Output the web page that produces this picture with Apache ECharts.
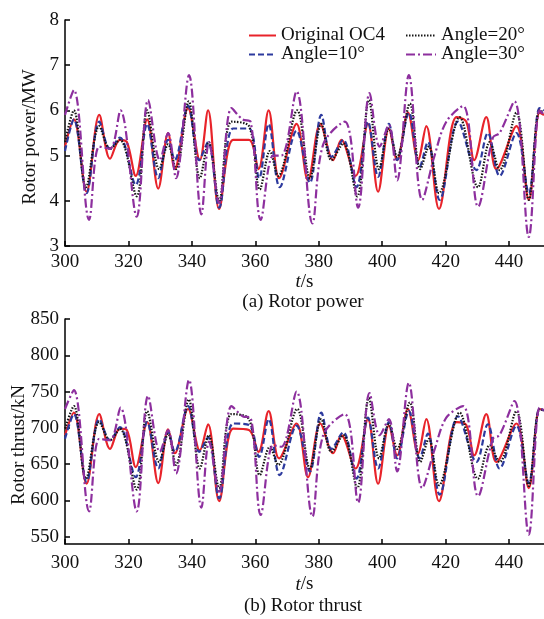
<!DOCTYPE html>
<html>
<head>
<meta charset="utf-8">
<script src="https://cdn.jsdelivr.net/npm/echarts@6/dist/echarts.min.js"></script>
<style>html,body{margin:0;padding:0;background:#fff}#c{width:544px;height:619px}</style>
</head>
<body>
<div id="c"></div>
<script>
// ---- data ----
const seriesNames = ['Original OC4', 'Angle=10°', 'Angle=20°', 'Angle=30°'];
const xTicks = [300, 320, 340, 360, 380, 400, 420, 440];
const powerTicks = [3, 4, 5, 6, 7, 8];
const thrustTicks = [550, 600, 650, 700, 750, 800, 850];

// Original OC4
const tOC4 = [300, 302.8, 306.8, 310.8, 314.2, 317.3, 319.5, 322.3, 325.9, 329.4, 332.5, 334.6, 338.8, 342.5, 345.1, 348.6, 353, 358, 361, 364.2, 367.5, 373, 376.6, 380.5, 384.5, 387.1, 391.6, 395.5, 398.7, 402.1, 404.7, 408.1, 411.3, 413.9, 417.9, 423.4, 426.5, 429, 432.8, 436, 442.3, 446.2, 449.6, 451];
const powerOC4 = [5.2, 5.8, 4.2, 5.9, 4.93, 5.35, 5.3, 4.55, 5.8, 4.27, 5.5, 4.7, 6.05, 4.9, 6.0, 3.82, 5.35, 5.35, 4.7, 6.0, 4.5, 5.7, 4.45, 5.7, 4.9, 5.35, 4.55, 5.7, 4.2, 5.6, 4.9, 5.95, 4.9, 5.65, 3.82, 5.85, 5.75, 4.9, 5.85, 4.7, 5.65, 4.02, 5.95, 5.9];
const thrustOC4 = [690, 721, 623, 719, 671, 699, 697, 646, 708, 624, 698, 665, 726, 669, 705, 599, 699, 697, 667, 723, 658, 706, 632, 706, 665, 690, 644, 712, 623, 703, 662, 726, 665, 712, 599, 708, 704, 662, 719, 653, 706, 617, 726, 724];

// Angle = 10°
const tA10 = [300, 302.8, 306.8, 310.8, 314.2, 317.3, 322.3, 325.9, 329.4, 332.5, 334.6, 338.8, 342.3, 345.1, 348.6, 353, 358, 361.2, 364.2, 367.7, 373, 377.2, 380.8, 384, 387.7, 391.9, 395.5, 398.7, 402.1, 404.7, 408.4, 411.8, 414.4, 418.1, 423.9, 429.7, 433.3, 437, 442.3, 446.2, 449.6, 451];
const powerA10 = [5.1, 5.8, 4.17, 5.75, 5.15, 5.4, 4.35, 5.7, 4.5, 5.35, 4.9, 6.1, 4.9, 5.3, 3.85, 5.6, 5.6, 4.5, 5.7, 4.3, 5.55, 4.4, 5.9, 4.97, 5.35, 4.3, 5.75, 4.53, 5.7, 4.9, 5.95, 4.75, 5.3, 4.02, 5.75, 4.68, 5.5, 4.55, 5.5, 4.17, 6.05, 6.0];
const thrustA10 = [685, 719, 626, 712, 683, 701, 632, 708, 644, 695, 667, 730, 667, 687, 603, 706, 704, 660, 712, 635, 703, 640, 721, 671, 694, 630, 714, 644, 708, 658, 723, 658, 692, 608, 716, 653, 705, 644, 703, 624, 726, 724];

// Angle = 20°
const tA20 = [300, 302.8, 306.6, 310.8, 314.2, 317.3, 322.6, 325.9, 329.7, 332.5, 335, 339, 342.5, 345.3, 348.6, 352.5, 358, 361.4, 364.6, 367.2, 373.2, 377.2, 380.8, 384, 387.7, 392.1, 395.8, 399, 402.1, 404.7, 408.7, 412, 414.7, 417.9, 424.4, 430.2, 433.9, 437, 442.3, 446.2, 449.6, 451];
const powerA20 = [5.3, 6.0, 4.3, 5.65, 5.15, 5.35, 4.1, 6.0, 4.7, 5.25, 4.7, 6.2, 4.5, 5.3, 4.0, 5.75, 5.65, 4.25, 5.1, 4.55, 6.0, 4.5, 5.7, 4.9, 5.27, 4.1, 6.23, 4.7, 5.6, 4.97, 6.15, 4.7, 5.2, 4.17, 5.85, 4.3, 5.3, 4.68, 5.95, 4.02, 6.0, 5.95];
const thrustA20 = [699, 730, 630, 708, 683, 699, 615, 723, 653, 692, 649, 739, 644, 690, 617, 719, 712, 635, 674, 649, 726, 644, 712, 667, 690, 617, 741, 658, 705, 671, 735, 653, 685, 621, 721, 630, 676, 653, 723, 620, 726, 724];

// Angle = 30°
const tA30 = [300, 302.8, 307.6, 310.8, 314.2, 317.5, 322.6, 326.2, 329.9, 332.5, 335, 339.1, 343, 345.4, 348.6, 352.5, 356, 358.5, 361.7, 365.6, 368.2, 373, 378, 381.4, 388.2, 392.4, 396, 399.2, 402.1, 404.7, 408.4, 412.6, 416.5, 420.2, 425.5, 430.2, 434.9, 437, 441.7, 446.2, 449.6, 451];
const powerA30 = [5.9, 6.45, 3.58, 5.2, 5.15, 6.0, 3.65, 6.23, 4.9, 5.5, 4.5, 6.78, 3.7, 5.3, 3.95, 6.05, 5.8, 5.75, 3.58, 5.0, 5.0, 6.42, 3.5, 5.25, 5.75, 3.85, 6.38, 5.2, 5.68, 4.45, 6.78, 4.02, 5.0, 5.75, 6.1, 3.87, 5.4, 5.5, 6.2, 3.2, 6.0, 5.9];
const thrustA30 = [726, 752, 585, 685, 683, 728, 585, 744, 667, 697, 637, 766, 590, 681, 612, 730, 716, 714, 580, 676, 674, 750, 578, 690, 719, 597, 748, 690, 712, 640, 762, 617, 670, 714, 730, 606, 685, 690, 737, 553, 728, 724];

// ---- styles ----
const FONT = 'Liberation Serif';
const colors = ['#e8232a', '#2d3a9e', '#161616', '#8d2f9e'];
const dashes = ['solid', [6, 3], [1.5, 1.5], [9, 3, 2, 3]];

const times = [tOC4, tA10, tA20, tA30];
const powers = [powerOC4, powerA10, powerA20, powerA30];
const thrusts = [thrustOC4, thrustA10, thrustA20, thrustA30];

function pairs(t, v) { return t.map((x, i) => [x, v[i]]); }

const series = [];
[1, 2].forEach(panel => {
  [3, 2, 1, 0].forEach(k => {
    series.push({
      name: seriesNames[k],
      type: 'line',
      xAxisIndex: panel - 1,
      yAxisIndex: panel - 1,
      data: pairs(times[k], panel === 1 ? powers[k] : thrusts[k]),
      smooth: 0.35,
      symbol: 'none',
      clip: true,
      lineStyle: { color: colors[k], width: 2.2, type: dashes[k] },
      itemStyle: { color: colors[k] },
      z: 2 + k
    });
  });
});

const axisCommon = {
  axisLine: { show: true, lineStyle: { color: '#000', width: 1.5 } },
  axisTick: { show: true, inside: true, length: 5, lineStyle: { color: '#000', width: 1.5 } },
  splitLine: { show: false },
  axisLabel: { color: '#111', fontFamily: FONT, fontSize: 19, margin: 6 }
};

function xAxis(idx, margin, gap) {
  return Object.assign({}, axisCommon, {
    type: 'value', gridIndex: idx, min: 300, max: 451,
    axisTick: Object.assign({}, axisCommon.axisTick, { customValues: xTicks }),
    axisLabel: Object.assign({}, axisCommon.axisLabel, { customValues: xTicks, margin: margin }),
    name: '{i|t}/s', nameLocation: 'middle', nameGap: gap,
    nameTextStyle: { fontFamily: FONT, fontSize: 19, color: '#111', verticalAlign: 'top',
      rich: { i: { fontFamily: FONT, fontSize: 19, fontStyle: 'italic', color: '#111' } } }
  });
}

const legendCommon = {
  orient: 'vertical', top: 26, itemHeight: 10, itemGap: 0, padding: 0,
  itemStyle: { opacity: 0 },
  textStyle: { fontFamily: FONT, fontSize: 19, color: '#111', lineHeight: 19 }
};

const option = {
  backgroundColor: '#fff',
  animation: false,
  grid: [
    { left: 65, right: 0, top: 20, height: 226 },
    { left: 65, right: 0, top: 319, height: 225 }
  ],
  xAxis: [xAxis(0, 7, 24), xAxis(1, 10, 31)],
  yAxis: [
    Object.assign({}, axisCommon, {
      type: 'value', gridIndex: 0, min: 3, max: 8,
      axisTick: Object.assign({}, axisCommon.axisTick, { customValues: powerTicks }),
      axisLabel: Object.assign({}, axisCommon.axisLabel, { customValues: powerTicks })
    }),
    Object.assign({}, axisCommon, {
      type: 'value', gridIndex: 1, min: 540, max: 850,
      axisTick: Object.assign({}, axisCommon.axisTick, { customValues: thrustTicks }),
      axisLabel: Object.assign({}, axisCommon.axisLabel, { customValues: thrustTicks })
    })
  ],
  legend: [
    Object.assign({}, legendCommon, { data: ['Original OC4', 'Angle=10°'], left: 248, itemWidth: 27 }),
    Object.assign({}, legendCommon, { data: ['Angle=20°', 'Angle=30°'], left: 405, itemWidth: 30 })
  ],
  graphic: [
    { type: 'text', x: 30, y: 137, rotation: Math.PI / 2,
      style: { text: 'Rotor power/MW', fontFamily: FONT, fontSize: 19, fill: '#111', align: 'center', verticalAlign: 'middle' } },
    { type: 'text', x: 19, y: 445, rotation: Math.PI / 2,
      style: { text: 'Rotor thrust/kN', fontFamily: FONT, fontSize: 19, fill: '#111', align: 'center', verticalAlign: 'middle' } },
    { type: 'text', x: 303, y: 302,
      style: { text: '(a) Rotor power', fontFamily: FONT, fontSize: 19, fill: '#111', align: 'center', verticalAlign: 'middle' } },
    { type: 'text', x: 303, y: 606,
      style: { text: '(b) Rotor thrust', fontFamily: FONT, fontSize: 19, fill: '#111', align: 'center', verticalAlign: 'middle' } }
  ],
  series: series
};

const chart = echarts.init(document.getElementById('c'), null, { renderer: 'canvas' });
chart.setOption(option);
</script>
</body>
</html>
